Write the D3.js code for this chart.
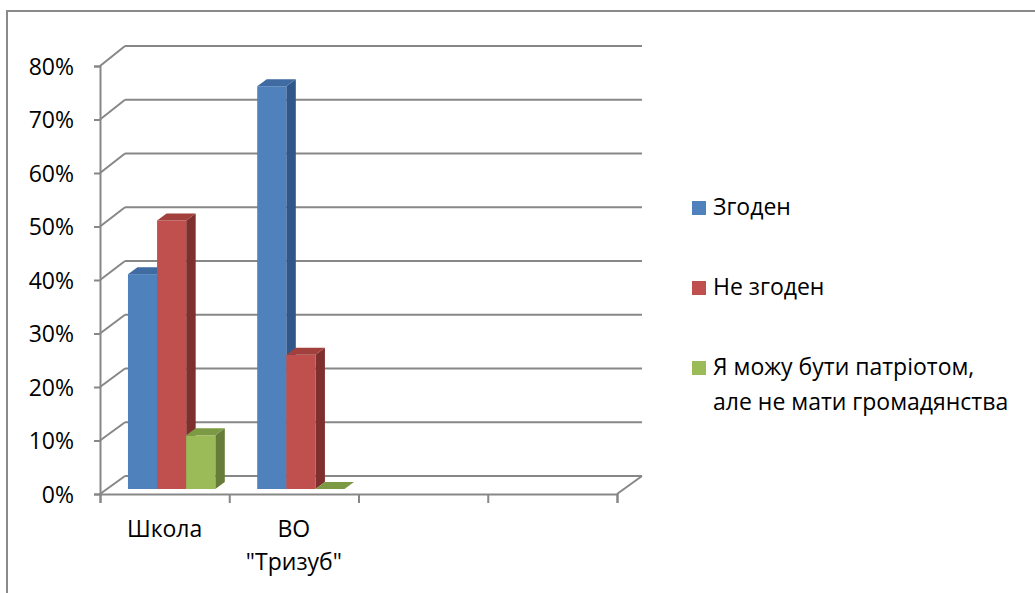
<!DOCTYPE html>
<html><head><meta charset="utf-8">
<script src="https://cdn.jsdelivr.net/npm/d3@7"></script>
<style>body{margin:0;background:#fff}svg{display:block}text{font-family:"Open Sans",sans-serif;fill:#000}</style>
</head><body>
<script>
const categories = ["Школа", "ВО \"Тризуб\"", "", " "];
const categoryLines = [["Школа"], ["ВО", "\"Тризуб\""], [], []];
const seriesNames = ["Згоден", "Не згоден", "Я можу бути патріотом, але не мати громадянства"];
const legendLines = [["Згоден"], ["Не згоден"], ["Я можу бути патріотом,", "але не мати громадянства"]];
const values = {
  "Згоден":    [0.40, 0.75, null, null],
  "Не згоден": [0.50, 0.25, null, null],
  "Я можу бути патріотом, але не мати громадянства": [0.10, 0.00, null, null]
};
const yTicks = [0, 0.1, 0.2, 0.3, 0.4, 0.5, 0.6, 0.7, 0.8];
const colors = ["#4F81BD", "#C0504D", "#9BBB59"];
const sideColors = ["#31568A", "#7E302E", "#667C39"];
const topColors = ["#3F6AA2", "#A2403D", "#7C9A44"];

const W = 1035, H = 593;
const FS = "23px";
const svg = d3.select("body").append("svg").attr("width", W).attr("height", H);

// outer border
svg.append("rect").attr("x", 7).attr("y", 11).attr("width", W + 10).attr("height", H + 10)
  .attr("fill", "none").attr("stroke", "#8a8a8a").attr("stroke-width", 2);

const grid = "#878787";
const xFront = d3.scaleLinear().domain([0, 4]).range([100, 617]);
const yFront = d3.scaleLinear().domain([0, 0.8]).range([494, 66]);
const yBack = d3.scaleLinear().domain([0, 0.8]).range([476, 46]);
const depthDx = 25;

// back gridlines + side diagonals
yTicks.forEach(t => {
  svg.append("line").attr("x1", xFront(0) + depthDx).attr("x2", xFront(4) + depthDx)
    .attr("y1", yBack(t)).attr("y2", yBack(t)).attr("stroke", grid).attr("stroke-width", 2);
  svg.append("line").attr("x1", xFront(0)).attr("y1", yFront(t))
    .attr("x2", xFront(0) + depthDx).attr("y2", yBack(t)).attr("stroke", grid).attr("stroke-width", 2);
});
// floor right diagonal
svg.append("line").attr("x1", xFront(4)).attr("y1", yFront(0))
  .attr("x2", xFront(4) + depthDx).attr("y2", yBack(0)).attr("stroke", grid).attr("stroke-width", 2);

// front axes
const yAxis = d3.axisLeft(yFront).tickValues(yTicks).tickSize(6).tickFormat(d3.format(".0%"));
const gy = svg.append("g").attr("transform", `translate(${xFront(0)},0)`).call(yAxis);
gy.select(".domain").attr("stroke", grid).attr("stroke-width", 2);
gy.selectAll(".tick line").attr("stroke", grid).attr("stroke-width", 2);
gy.selectAll(".tick text").attr("x", -26).attr("dy", "0.36em").style("font-size", FS)
  .style("font-family", "'Open Sans',sans-serif").attr("fill", "#000");

const gx = svg.append("g").attr("transform", `translate(0,${yFront(0)})`)
  .call(d3.axisBottom(xFront).tickValues([0, 1, 2, 3, 4]).tickSize(9).tickFormat(""));
gx.select(".domain").attr("stroke", grid).attr("stroke-width", 2);
gx.selectAll(".tick line").attr("stroke", grid).attr("stroke-width", 2);

// category labels
categoryLines.forEach((lines, i) => {
  lines.forEach((ln, j) => {
    svg.append("text").attr("x", xFront(i + 0.5)).attr("y", 537 + j * 33)
      .attr("text-anchor", "middle").style("font-size", FS).text(ln);
  });
});

// bars
const barDx = 7;
const x0 = d3.scaleBand().domain(categories).range([xFront(0) + barDx, xFront(4) + barDx]);
const x1 = d3.scaleBand().domain(seriesNames).range([0, x0.bandwidth()]).paddingOuter(0.72).paddingInner(0);
const yBar = d3.scaleLinear().domain([0, 0.8]).range([489, 59.4]);
const sdx = 9.5, sdy = -7;

categories.forEach((c, ci) => {
  seriesNames.forEach((s, si) => {
    const v = values[s][ci];
    if (v === null) return;
    const xl = x0(c) + x1(s), xr = xl + x1.bandwidth();
    const yt = yBar(v), yb = yBar(0);
    const g = svg.append("g");
    if (v > 0) {
      g.append("path").attr("d", `M${xr},${yt}L${xr + sdx},${yt + sdy}L${xr + sdx},${yb + sdy}L${xr},${yb}Z`)
        .attr("fill", sideColors[si]);
      g.append("rect").attr("x", xl).attr("y", yt).attr("width", xr - xl).attr("height", yb - yt)
        .attr("fill", colors[si]);
    }
    g.append("path").attr("d", `M${xl},${yt}L${xr},${yt}L${xr + sdx},${yt + sdy}L${xl + sdx},${yt + sdy}Z`)
      .attr("fill", topColors[si]);
  });
});

// legend
const legY = [215, 295, 375];
seriesNames.forEach((s, i) => {
  svg.append("rect").attr("x", 692).attr("y", legY[i] - 14).attr("width", 14).attr("height", 14)
    .attr("fill", colors[i]);
  legendLines[i].forEach((ln, j) => {
    svg.append("text").attr("x", 713).attr("y", legY[i] + j * 35).style("font-size", FS).text(ln);
  });
});
</script>
</body></html>
